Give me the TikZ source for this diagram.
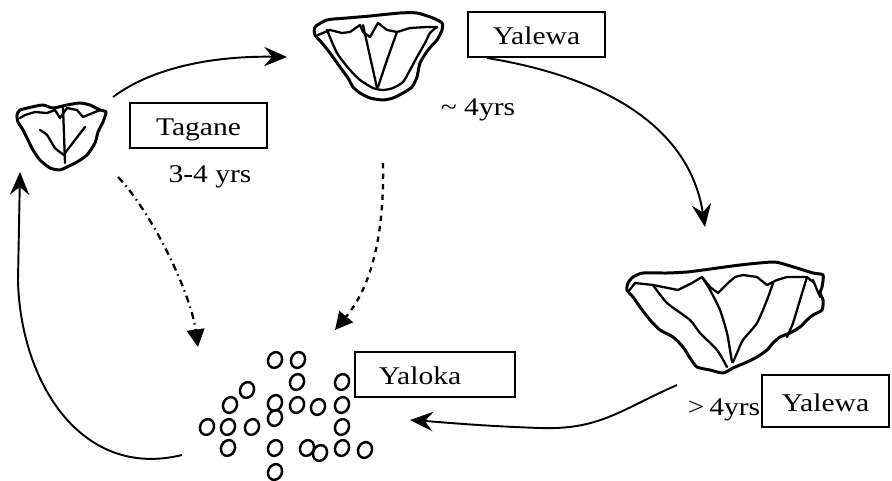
\documentclass[tikz,border=0pt]{standalone}
\usepackage{fontspec}
\setmainfont{Liberation Serif}
\usepackage{graphicx}
\usetikzlibrary{arrows.meta}
\newcommand{\wide}[1]{\scalebox{1.16}[1]{#1}}

\begin{document}
\begin{tikzpicture}[x=0.02cm, y=-0.02cm,
	box/.style={draw, line width=1pt, inner sep=0pt, font=\fontsize{14.5}{17}\selectfont, text height=2.6ex, text depth=0pt},
	lbl/.style={inner sep=0pt, font=\fontsize{14.5}{17}\selectfont},
	shell/.style={line width=1.7pt, line join=round},
	rim/.style={line width=1.3pt, line join=round, line cap=round},
	egg/.style={line width=1.4pt},
	flow/.style={line width=1.1pt, -{Stealth[length=13pt, width=11pt, inset=4.5pt]}},
	drop/.style={line width=1.3pt, -{Triangle[length=10pt, width=10pt]}}]
	\useasboundingbox (0,0) rectangle (892,480);

	\draw[shell] plot[smooth cycle, tension=0.4] coordinates {(20,110) (32,107) (43,105) (53,108) (67,105) (80,103) (90,105) (100,110) (106,112) (103,122) (98,132) (95,143) (87,155) (77,162) (67,167) (60,170) (50,168) (40,160) (33,150) (27,138) (23,130) (18,122) (17,115)};
	\draw[rim] plot[sharp plot] coordinates {(20,118) (25,115) (35,112) (47,113) (55,110) (60,118) (67,108) (77,110) (83,117) (100,110)};
	\draw[rim] (63,107) -- (65,163);
	\draw[rim] plot[smooth, tension=0.4] coordinates {(40,130) (47,135) (55,148) (64,155)};
	\draw[rim] plot[smooth, tension=0.4] coordinates {(85,127) (75,140) (65,153)};

	\draw[shell] plot[smooth cycle, tension=0.4] coordinates {(315,27) (327,20) (347,18) (370,16) (400,13) (417,13) (433,18) (442,23) (442,30) (437,40) (428,50) (420,63) (417,77) (412,87) (403,93) (393,98) (383,100) (370,98) (360,93) (353,87) (348,78) (340,67) (330,53) (322,43) (315,35)};
	\draw[rim] plot[sharp plot] coordinates {(318,35) (330,30) (342,33) (350,32) (360,25) (363,32) (370,37) (378,23) (387,30) (397,32) (410,28) (427,27) (437,27)};
	\draw[rim] plot[smooth, tension=0.4] coordinates {(327,30) (337,53) (350,70) (360,80) (373,88) (383,90) (393,88) (403,82) (410,70) (417,57) (425,43) (430,33) (437,27)};
	\draw[rim] (363,25) -- (377,88);
	\draw[rim] plot[smooth, tension=0.4] coordinates {(397,32) (387,60) (378,87)};

	\draw[shell] plot[smooth cycle, tension=0.4] coordinates {(633,277) (643,273) (667,273) (687,272) (703,270) (740,265) (773,262) (787,265) (813,273) (823,275) (822,287) (820,293) (823,300) (822,310) (813,315) (807,320) (800,327) (790,333) (780,337) (773,343) (767,350) (757,357) (747,362) (733,368) (723,373) (710,370) (697,367) (690,358) (683,347) (673,337) (660,330) (650,320) (640,307) (633,297) (627,290) (628,283)};
	\draw[rim] plot[sharp plot] coordinates {(628,292) (635,283) (653,285) (678,290) (692,283) (702,277) (710,287) (718,293) (728,283) (735,277) (743,275) (757,277) (767,285) (777,280) (787,277) (807,277) (813,282)};
	\draw[rim] plot[smooth, tension=0.4] coordinates {(653,285) (667,303) (690,320) (700,333) (717,350) (727,367)};
	\draw[rim] plot[smooth, tension=0.4] coordinates {(702,277) (710,290) (720,310) (727,333) (730,350) (732,362)};
	\draw[rim] plot[smooth, tension=0.4] coordinates {(773,283) (767,300) (757,323) (743,340) (737,353) (733,362)};
	\draw[rim] plot[smooth, tension=0.4] coordinates {(807,277) (800,300) (793,323) (787,337)};
	\draw[rim] (813,280) -- (820,297);

	\foreach \x/\y in {275/360, 298/360, 297/382, 342/382, 247/390, 230/405, 275/403, 297/405, 318/407, 342/405, 275/418, 207/427, 228/427, 252/427, 342/427, 228/448, 275/448, 307/448, 320/453, 342/448, 365/450, 275/472}
		\draw[egg, rotate around={-25:(\x,\y)}] (\x,\y) ellipse [x radius=3.9pt, y radius=4.6pt];

	\node[box, minimum width=2.74cm, minimum height=0.9cm] (Tg) at (198.5,125.5) {\wide{Tagane}};
	\node[box, minimum width=2.74cm, minimum height=0.9cm] (YwA) at (536.5,34.5) {\wide{Yalewa}};
	\node[box, minimum width=3.2cm, minimum height=0.9cm] (Yk) at (435,374.5) {\wide{Yaloka}\hspace*{0.6cm}};
	\node[box, minimum width=2.54cm, minimum height=1.04cm] (YwB) at (825.5,401) {\wide{Yalewa}};

	\node[lbl] (TgAge) at (210,177) {\wide{3-4 yrs}};
	\node[lbl] (YwAAge) at (478,110) {\wide{\textasciitilde{} 4yrs}};
	\node[lbl] (YwBAge) at (724,410) {\wide{>\,4yrs}};

	\coordinate (TgOut) at (113,97);
	\coordinate (YwAIn) at (287,57);
	\coordinate (YwAOut) at (487,58);
	\coordinate (YwBIn) at (705,227);
	\coordinate (YwBOut) at (677,385);
	\coordinate (YkIn) at (410,420);
	\coordinate (YkOut) at (182,455);
	\coordinate (TgIn) at (20,172);
	\coordinate (TgDrop) at (118,177);
	\coordinate (TgEggs) at (198,347);
	\coordinate (YwADrop) at (383,163);
	\coordinate (YwAEggs) at (335,330);

	\draw[flow] (TgOut) .. controls (160,62) and (230,56) .. (YwAIn);
	\draw[flow] (YwAOut) .. controls (610,78) and (690,130) .. (YwBIn);
	\draw[flow] (YwBOut) .. controls (620,410) and (600,430) .. (540,428) .. controls (480,426) and (440,422) .. (YkIn);
	\draw[flow] (YkOut) .. controls (80,480) and (20,380) .. (18,280) -- (TgIn);
	\draw[drop, dash pattern=on 4pt off 2.5pt on 0.8pt off 2.5pt] (TgDrop) .. controls (150,210) and (190,290) .. (TgEggs);
	\draw[drop, dashed] (YwADrop) .. controls (385,260) and (360,300) .. (YwAEggs);
\end{tikzpicture}
\end{document}
